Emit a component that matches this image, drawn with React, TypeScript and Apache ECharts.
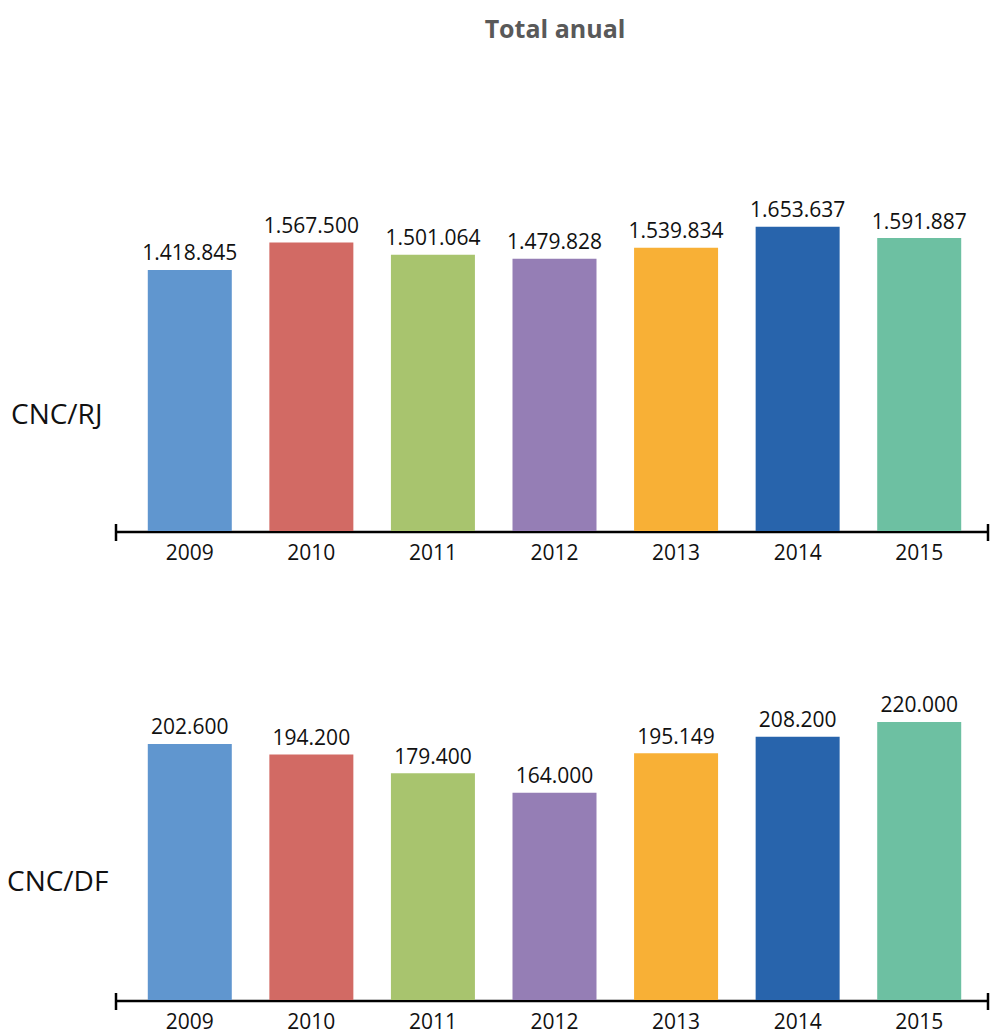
import React, { useEffect, useRef } from "react";
import * as echarts from "echarts";

const years = ["2009", "2010", "2011", "2012", "2013", "2014", "2015"];
const rjValues = [1418845, 1567500, 1501064, 1479828, 1539834, 1653637, 1591887];
const dfValues = [202600, 194200, 179400, 164000, 195149, 208200, 220000];
const barColors = ["#6096CF", "#D26A64", "#A8C46E", "#957EB5", "#F8B036", "#2864AC", "#6DC0A2"];
const title = "Total anual";
const rowLabels = ["CNC/RJ", "CNC/DF"];

const FONT = "'Open Sans', 'Noto Sans', sans-serif";

function fmt(v: number): string {
  return String(Math.round(v)).replace(/\B(?=(\d{3})+(?!\d))/g, ".");
}

function axisDecor(y: number) {
  const left = 116;
  const right = 988;
  const s = { stroke: "#000", lineWidth: 2.5 };
  return [
    { type: "line", shape: { x1: left, y1: y, x2: right, y2: y }, style: s },
    { type: "line", shape: { x1: left, y1: y - 8, x2: left, y2: y + 9 }, style: s },
    { type: "line", shape: { x1: right, y1: y - 8, x2: right, y2: y + 9 }, style: s },
  ];
}

export default function App() {
  const ref = useRef<HTMLDivElement>(null);
  useEffect(() => {
    document.body.style.margin = "0";
    if (!ref.current) return;
    const chart = echarts.init(ref.current, undefined, { renderer: "svg" });
    const makeSeries = (vals: number[], idx: number) => ({
      type: "bar",
      xAxisIndex: idx,
      yAxisIndex: idx,
      barWidth: 84,
      data: vals.map((v, i) => ({ value: v, itemStyle: { color: barColors[i] } })),
      label: {
        show: true,
        position: "top",
        distance: 7,
        color: "#111",
        fontSize: 21,
        fontFamily: FONT,
        formatter: (p: any) => fmt(p.value),
      },
    });
    const xAx = (idx: number) => ({
      type: "category",
      gridIndex: idx,
      data: years,
      axisLine: { show: false },
      axisTick: { show: false },
      axisLabel: { color: "#111", fontSize: 21, fontFamily: FONT, margin: 10 },
    });
    const yAx = (idx: number, max: number) => ({
      type: "value",
      gridIndex: idx,
      min: 0,
      max,
      show: false,
      splitLine: { show: false },
    });
    chart.setOption({
      animation: false,
      backgroundColor: "#fff",
      grid: [
        { left: 129, width: 851, top: 163, height: 368 },
        { left: 129, width: 851, top: 684, height: 316 },
      ],
      xAxis: [xAx(0), xAx(1)],
      yAxis: [yAx(0, 2000000), yAx(1, 250000)],
      series: [makeSeries(rjValues, 0), makeSeries(dfValues, 1)],
      graphic: [
        ...axisDecor(532),
        ...axisDecor(1001),
        {
          type: "text",
          x: 555,
          y: 28,
          style: {
            text: title,
            fill: "#595959",
            font: `bold 25px ${FONT}`,
            textAlign: "center",
            textVerticalAlign: "middle",
          },
        },
        {
          type: "text",
          x: 11,
          y: 413,
          style: {
            text: rowLabels[0],
            fill: "#111",
            font: `28px ${FONT}`,
            textAlign: "left",
            textVerticalAlign: "middle",
          },
        },
        {
          type: "text",
          x: 7,
          y: 880,
          style: {
            text: rowLabels[1],
            fill: "#111",
            font: `28px ${FONT}`,
            textAlign: "left",
            textVerticalAlign: "middle",
          },
        },
      ],
    });
    return () => chart.dispose();
  }, []);
  return <div ref={ref} style={{ width: 990, height: 1033 }} />;
}
